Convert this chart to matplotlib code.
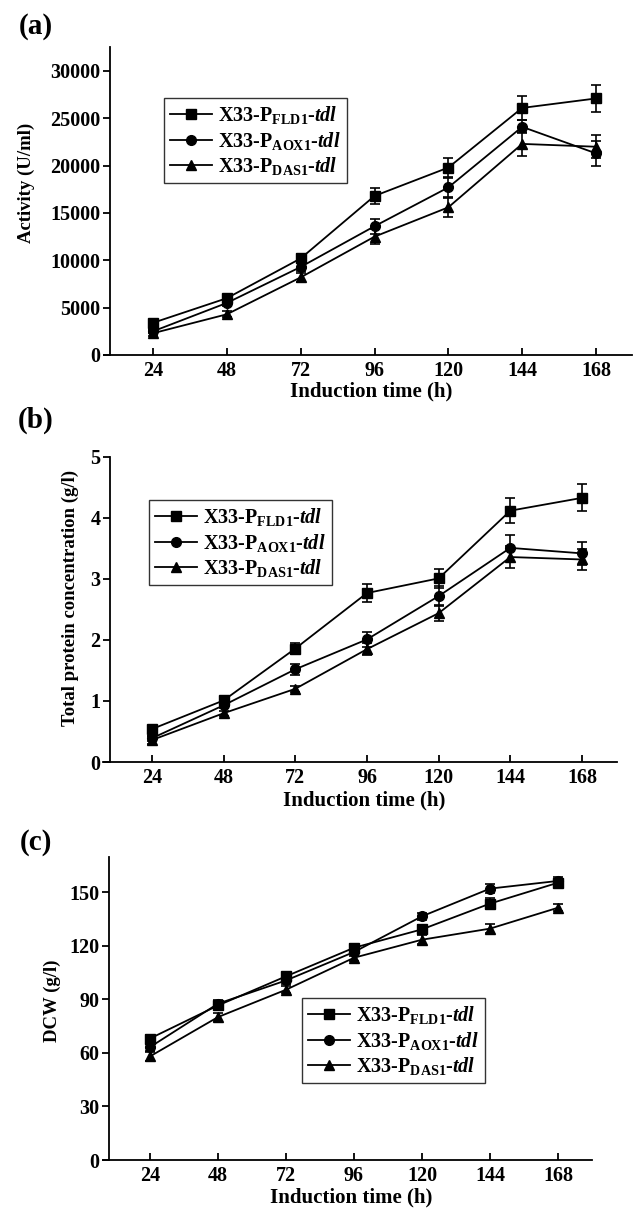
import matplotlib
matplotlib.use('Agg')
import matplotlib.pyplot as plt

# ---------------- data ----------------
hours = [24, 48, 72, 96, 120, 144, 168]
hour_labels = ['24', '48', '72', '96', '120', '144', '168']
legend_labels = [r'X33-P$_{\mathrm{FLD1}}$-$\mathit{tdl}$',
                 r'X33-P$_{\mathrm{AOX1}}$-$\mathit{tdl}$',
                 r'X33-P$_{\mathrm{DAS1}}$-$\mathit{tdl}$']

act_fld1 = [3400, 6000, 10200, 16800, 19800, 26100, 27100]
act_fld1_err = [200, 250, 500, 800, 1000, 1300, 1400]
act_aox1 = [2500, 5500, 9300, 13600, 17700, 24100, 21300]
act_aox1_err = [200, 300, 450, 800, 1000, 700, 1300]
act_das1 = [2300, 4300, 8200, 12500, 15600, 22300, 22000]
act_das1_err = [300, 300, 500, 800, 1000, 1300, 1200]

prot_fld1 = [0.54, 1.01, 1.86, 2.77, 3.01, 4.12, 4.33]
prot_fld1_err = [0.03, 0.05, 0.09, 0.14, 0.15, 0.21, 0.22]
prot_aox1 = [0.39, 0.93, 1.52, 2.01, 2.72, 3.51, 3.42]
prot_aox1_err = [0.04, 0.05, 0.09, 0.12, 0.17, 0.21, 0.19]
prot_das1 = [0.36, 0.80, 1.20, 1.85, 2.44, 3.36, 3.32]
prot_das1_err = [0.06, 0.04, 0.05, 0.10, 0.13, 0.18, 0.17]

dcw_fld1 = [68.0, 86.5, 102.8, 118.8, 129.1, 143.5, 155.2]
dcw_fld1_err = [2.0, 2.0, 2.0, 2.0, 2.5, 3.0, 2.0]
dcw_aox1 = [63.2, 87.5, 100.5, 116.4, 136.4, 151.9, 156.2]
dcw_aox1_err = [2.0, 2.0, 2.0, 2.0, 2.0, 2.5, 2.0]
dcw_das1 = [58.0, 80.0, 95.3, 113.2, 123.3, 129.5, 141.2]
dcw_das1_err = [2.5, 2.0, 2.0, 2.0, 2.5, 2.5, 2.0]

act_ticks = [0, 5000, 10000, 15000, 20000, 25000, 30000]
prot_ticks = [0, 1, 2, 3, 4, 5]
dcw_ticks = [0, 30, 60, 90, 120, 150]

# ---------------- style ----------------
plt.rcParams['font.family'] = ['Liberation Serif', 'DejaVu Serif']
plt.rcParams['font.weight'] = 'bold'
plt.rcParams['mathtext.fontset'] = 'custom'
plt.rcParams['mathtext.rm'] = 'Liberation Serif:bold'
plt.rcParams['mathtext.it'] = 'Liberation Serif:bold:italic'
plt.rcParams['mathtext.bf'] = 'Liberation Serif:bold'

W, H = 635, 1208
fig = plt.figure(figsize=(W / 100, H / 100), dpi=100)


def fx(px):
    return px / W


def fy(py):
    return 1 - py / H


markers = ['s', 'o', '^']
msizes = [6.5, 7, 7.5]


def make_panel(spec, series, errs, yticks, ymax, ylabel, ylabel_pos,
               xlabel_pos, tag_pos, tag, leg_pos):
    # spec: (axis_start_px, spine_px, x24_px, x168_px, right_px, top_px, bottom_px)
    a0, sp, x24, x168, r, top, bot = spec
    ppu = (x168 - x24) / 144.0
    ax = fig.add_axes([fx(a0), fy(bot), (r - a0) / W, (bot - top) / H])
    ax.set_xlim(24 - (x24 - a0) / ppu, 168 + (r - x168) / ppu)
    ax.set_ylim(0, ymax)
    ax.patch.set_alpha(0)
    for s in ['top', 'right']:
        ax.spines[s].set_visible(False)
    ax.spines['left'].set_position(('data', 24 - (x24 - sp) / ppu))
    ax.spines['left'].set_linewidth(1.3)
    ax.spines['bottom'].set_linewidth(1.3)
    handles = []
    for vals, e, m, ms in zip(series, errs, markers, msizes):
        h = ax.errorbar(hours, vals, yerr=e, color='black', marker=m, ms=ms,
                        lw=1.3, elinewidth=1.2, capsize=3.5, capthick=1.2,
                        clip_on=False)
        handles.append(h[0])
    ax.set_xticks(hours)
    ax.set_xticklabels(hour_labels)
    ax.set_yticks(yticks)
    ax.tick_params(axis='x', direction='in', length=5, width=1.3, pad=4.5,
                   labelsize=14.5)
    ax.tick_params(axis='y', direction='out', length=5, width=1.3, pad=2,
                   labelsize=14.5)
    for lab in ax.get_xticklabels() + ax.get_yticklabels():
        lab.set_fontweight('bold')
    fig.text(fx(ylabel_pos[0]), fy(ylabel_pos[1]), ylabel, rotation=90,
             ha='right', va='center', fontsize=13.5, fontweight='bold')
    fig.text(fx(xlabel_pos[0]), fy(xlabel_pos[1]), 'Induction time (h)',
             ha='center', va='center', fontsize=15, fontweight='bold')
    fig.text(fx(tag_pos[0]), fy(tag_pos[1]), tag, ha='center', va='center',
             fontsize=21, fontweight='bold')
    leg = ax.legend(handles, legend_labels, loc='upper left',
                    bbox_to_anchor=(fx(leg_pos[0]), fy(leg_pos[1])),
                    bbox_transform=fig.transFigure, borderaxespad=0,
                    fontsize=14.5, frameon=True, fancybox=False,
                    edgecolor='#333333', framealpha=1, numpoints=1,
                    handlelength=2.1, handletextpad=0.3, labelspacing=0.18,
                    borderpad=0.3)
    leg.get_frame().set_linewidth(1.0)
    return ax


make_panel((104, 110, 153, 596, 632, 47, 355),
           [act_fld1, act_aox1, act_das1],
           [act_fld1_err, act_aox1_err, act_das1_err],
           act_ticks, 30000 * (355 - 47) / (355 - 71), 'Activity (U/ml)',
           (35, 183), (371, 391), (36, 27), '(a)', (164, 98))

make_panel((103, 110, 152, 582, 617, 457, 762),
           [prot_fld1, prot_aox1, prot_das1],
           [prot_fld1_err, prot_aox1_err, prot_das1_err],
           prot_ticks, 5, 'Total protein concentration (g/l)',
           (79, 598), (364, 800), (36, 420), '(b)', (149, 500))

make_panel((103, 109, 150, 558, 592, 857, 1160),
           [dcw_fld1, dcw_aox1, dcw_das1],
           [dcw_fld1_err, dcw_aox1_err, dcw_das1_err],
           dcw_ticks, 150 * (1160 - 857) / (1160 - 892), 'DCW (g/l)',
           (61, 1001), (351, 1197), (36, 843), '(c)', (302, 998))

fig.savefig('out.png', dpi=100)
